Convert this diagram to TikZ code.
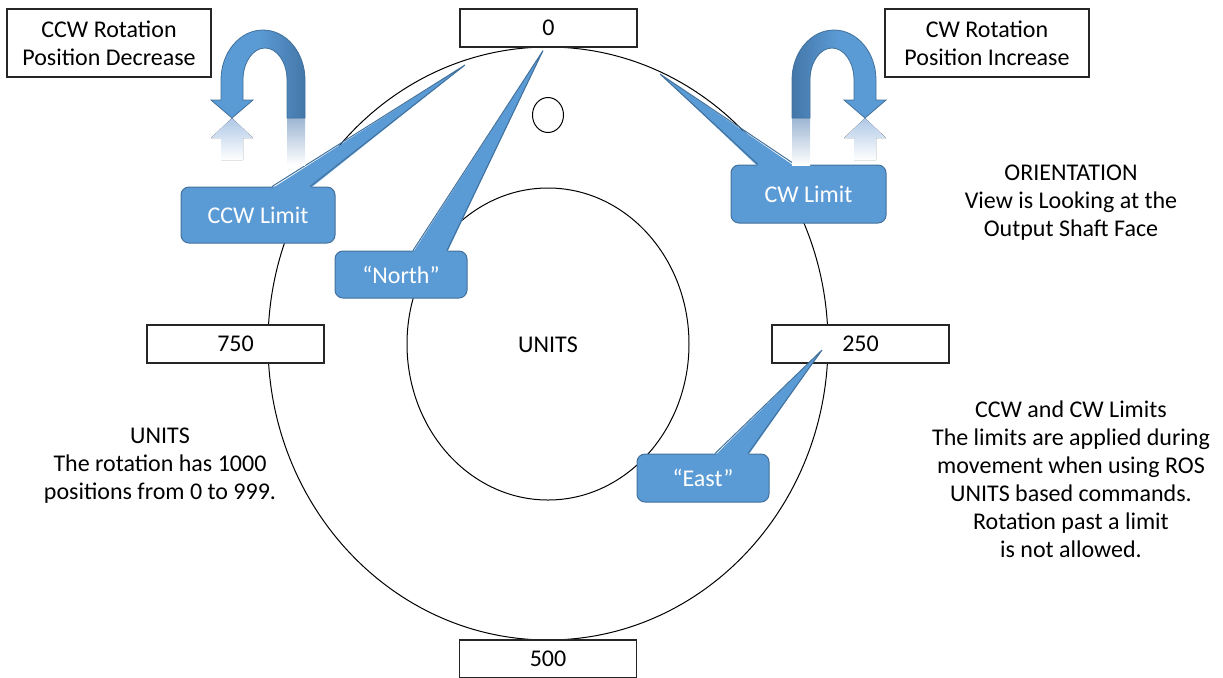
\documentclass[tikz,border=0pt]{standalone}
\usepackage{fontspec}
\setmainfont{Carlito}
\usetikzlibrary{arrows.meta,calc,positioning}
\definecolor{calloutblue}{HTML}{5B9BD5}
\definecolor{calloutedge}{HTML}{41719C}
\definecolor{turndark}{HTML}{4477A9}
\definecolor{mirrorblue}{HTML}{AFC8E6}
\definecolor{legmirror}{HTML}{9DB6D3}

\begin{document}
\begin{tikzpicture}[x=0.5pt,y=-0.5pt,>=Latex,
  every node/.style={font=\fontsize{12}{14}\selectfont},
  numbox/.style={draw=black!85,line width=0.6pt,fill=white,minimum width=88.5pt,minimum height=19pt,inner sep=0pt},
  notebox/.style={draw=black!85,line width=0.6pt,fill=white,align=center,minimum width=102pt,minimum height=34pt,inner sep=0pt},
  callout/.style={draw=calloutedge,line width=0.5pt,fill=calloutblue,rounded corners=4pt,text=white,inner sep=0pt},
  pointer/.style={fill=calloutblue},
  pointeredge/.style={draw=calloutedge,line width=0.5pt},
  turnarrow/.style={draw=calloutedge,line width=0.4pt}]
  \useasboundingbox (0,0) rectangle (1223,677);
  % dial
  \draw[line width=0.5pt] (548,343.5) ellipse[x radius=140pt,y radius=148.25pt];
  \draw[line width=0.5pt] (548,344) ellipse[x radius=70.5pt,y radius=78pt];
  \draw[line width=0.5pt] (548,115) ellipse[x radius=7.75pt,y radius=8.75pt];
  \node (units) at (548,345) {UNITS};
  % position marks
  \node[numbox] (p0) at (548.5,28) {0};
  \node[numbox] (p250) at (860.5,344) {250};
  \node[numbox] (p500) at (548,659) {500};
  \node[numbox] (p750) at (235.5,344) {750};
  % callouts
  \coordinate (ccwtip) at (465,65);
  \coordinate (cwtip) at (660,74);
  \coordinate (northtip) at ([xshift=-2.75pt,yshift=-1.5pt]p0.south);
  \coordinate (easttip) at ([xshift=-19.25pt,yshift=-3pt]p250.center);
  \node[callout,minimum width=77pt,minimum height=28pt] (ccwlim) at (258,215) {CCW Limit};
  \node[callout,minimum width=66pt,minimum height=23.5pt] (north) at (401,274.5) {“North”};
  \node[callout,minimum width=77.5pt,minimum height=29pt] (cwlim) at (808.5,194) {CW Limit};
  \node[callout,minimum width=66pt,minimum height=24pt] (east) at (703,478) {“East”};
  \fill[pointer] ([xshift=7pt,yshift=-1pt]ccwlim.north) -- (ccwtip) -- ([xshift=26pt,yshift=-1pt]ccwlim.north) -- cycle;
  \draw[pointeredge] ([xshift=7pt]ccwlim.north) -- (ccwtip) -- ([xshift=26pt]ccwlim.north);
  \fill[pointer] ([xshift=6pt,yshift=-1pt]north.north) -- (northtip) -- ([xshift=23pt,yshift=-1pt]north.north) -- cycle;
  \draw[pointeredge] ([xshift=6pt]north.north) -- (northtip) -- ([xshift=23pt]north.north);
  \fill[pointer] ([xshift=-25.25pt,yshift=-1pt]cwlim.north) -- (cwtip) -- ([xshift=-6.75pt,yshift=-1pt]cwlim.north) -- cycle;
  \draw[pointeredge] ([xshift=-25.25pt]cwlim.north) -- (cwtip) -- ([xshift=-6.75pt]cwlim.north);
  \fill[pointer] ([xshift=6pt,yshift=-1pt]east.north) -- (easttip) -- ([xshift=22.5pt,yshift=-1pt]east.north) -- cycle;
  \draw[pointeredge] ([xshift=6pt]east.north) -- (easttip) -- ([xshift=22.5pt]east.north);
  % turn arrows with reflections
  \fill[top color=mirrorblue,bottom color=white] (232,118) -- (211,138) -- (221,138) -- (221,160) -- (243,160) -- (243,138) -- (253,138) -- cycle;
  \fill[top color=legmirror,bottom color=white] (287,118) rectangle (305,165);
  \draw[turnarrow,left color=calloutblue,right color=turndark,middle color=calloutblue]
    (305,118) -- (305,80) arc[start angle=0,end angle=180,x radius=21pt,y radius=25pt]
    -- (221,100) -- (211,100) -- (232,118) -- (253,100) -- (243,100) -- (243,80)
    arc[start angle=180,end angle=0,x radius=11pt,y radius=16pt] -- (287,118) -- cycle;
  \fill[top color=mirrorblue,bottom color=white] (865,118) -- (844,138) -- (854,138) -- (854,160) -- (876,160) -- (876,138) -- (886,138) -- cycle;
  \fill[top color=legmirror,bottom color=white] (792,118) rectangle (810,165);
  \draw[turnarrow,left color=turndark,right color=calloutblue,middle color=calloutblue]
    (792,118) -- (792,80) arc[start angle=180,end angle=0,x radius=21pt,y radius=25pt]
    -- (876,100) -- (886,100) -- (865,118) -- (844,100) -- (854,100) -- (854,80)
    arc[start angle=0,end angle=180,x radius=11pt,y radius=16pt] -- (810,118) -- cycle;
  % notes
  \node[notebox] (ccwnote) at (109,43) {CCW Rotation\\Position Decrease};
  \node[notebox] (cwnote) at (987,43) {CW Rotation\\Position Increase};
  \node[align=center] (orient) at (1071,203) {ORIENTATION\\View is Looking at the\\Output Shaft Face};
  \node[align=center] (unitsnote) at (160,466) {UNITS\\The rotation has 1000\\positions from 0 to 999.};
  \node[align=center] (limits) at (1071,479) {CCW and CW Limits\\The limits are applied during\\movement when using ROS\\UNITS based commands.\\Rotation past a limit\\is not allowed.};
\end{tikzpicture}
\end{document}
